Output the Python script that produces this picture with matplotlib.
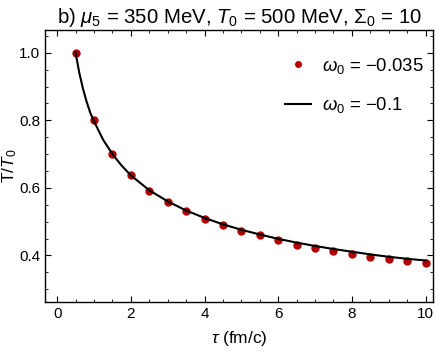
import matplotlib.pyplot as plt
from matplotlib.ticker import MultipleLocator

plt.rcParams['font.family'] = ['Liberation Sans', 'DejaVu Sans']
plt.rcParams['mathtext.fontset'] = 'custom'
plt.rcParams['mathtext.rm'] = 'Liberation Sans'
plt.rcParams['mathtext.it'] = 'Liberation Sans:italic'

# points, omega_0 = -0.035
tau_pts = [0.5, 1.0, 1.5, 2.0, 2.5, 3.0, 3.5, 4.0, 4.5, 5.0,
           5.5, 6.0, 6.5, 7.0, 7.5, 8.0, 8.5, 9.0, 9.5, 10.0]
T_pts = [1.0, 0.80, 0.700, 0.637, 0.592, 0.558, 0.531, 0.508, 0.489, 0.473,
         0.459, 0.445, 0.432, 0.422, 0.413, 0.405, 0.396, 0.390, 0.384, 0.377]

# line, omega_0 = -0.1
tau_line = [0.5, 0.6, 0.7, 0.8, 0.9, 1.0, 1.25, 1.5, 1.75, 2.0, 2.5, 3.0, 3.5,
            4.0, 4.5, 5.0, 5.5, 6.0, 6.5, 7.0, 7.5, 8.0, 8.5, 9.0, 9.5, 10.0]
T_line = [1.0, 0.941, 0.894, 0.855, 0.822, 0.797, 0.742, 0.700, 0.666, 0.637,
          0.593, 0.560, 0.533, 0.511, 0.492, 0.476, 0.462, 0.449, 0.438,
          0.428, 0.419, 0.411, 0.403, 0.396, 0.390, 0.385]

fig = plt.figure(figsize=(4.36, 3.54), dpi=100)
ax = fig.add_axes([0.1032, 0.1477, 0.8898, 0.7673])

ax.plot(tau_pts, T_pts, 'o', color='#b00000', markersize=5, label=r'$\omega_0$ = −0.035')
ax.plot(tau_line, T_line, '-', color='black', linewidth=1.5, label=r'$\omega_0$ = −0.1')

ax.set_xlim(-0.33, 10.2)
ax.set_ylim(0.263, 1.067)
ax.xaxis.set_major_locator(MultipleLocator(2))
ax.xaxis.set_minor_locator(MultipleLocator(0.5))
ax.yaxis.set_major_locator(MultipleLocator(0.2))
ax.yaxis.set_minor_locator(MultipleLocator(0.05))
ax.tick_params(which='both', direction='in', top=True, right=True, labelsize=11)
ax.tick_params(which='major', length=4)
ax.tick_params(which='minor', length=2)
for s in ax.spines.values():
    s.set_linewidth(1.0)

ax.set_xlabel(r'$\tau$ (fm/c)', fontsize=12.5, labelpad=6)
ax.set_ylabel(r'T/$T_0$', fontsize=12.5)
ax.yaxis.set_label_coords(-0.067, 0.5)
ax.set_title(r'b) $\mu_5$ = 350 MeV, $T_0$ = 500 MeV, $\Sigma_0$ = 10', fontsize=14.7, pad=5)

ax.legend(loc='upper right', bbox_to_anchor=(0.975, 0.905), frameon=False, fontsize=13.3,
          handlelength=1.4, handletextpad=0.6, labelspacing=1.05, borderaxespad=0,
          borderpad=0, markerscale=0.8)

fig.savefig('out.png', dpi=100)
